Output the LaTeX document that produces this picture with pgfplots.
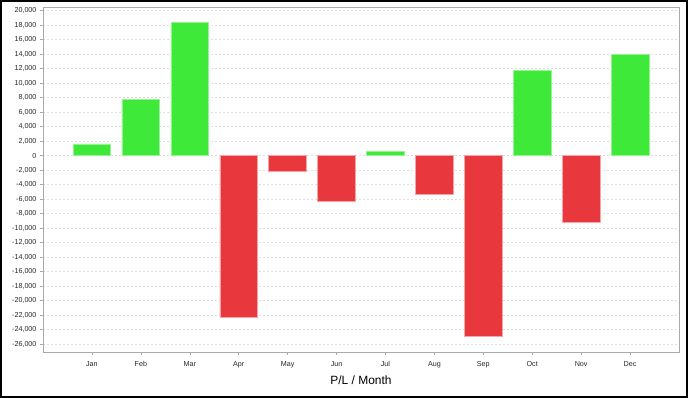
\documentclass[border=0pt]{standalone}
\usepackage{pgfplots}
\pgfplotsset{compat=1.18}
\usepackage{fontspec}
\setmainfont{Liberation Sans}
\definecolor{posgreen}{HTML}{3EE93A}
\definecolor{negred}{HTML}{E8383D}
\definecolor{framegray}{HTML}{AAAAAA}
\definecolor{gridgray}{HTML}{DEDEDE}
\begin{document}
\begin{tikzpicture}
\useasboundingbox (-43bp,-46bp) rectangle (645bp,352bp);
\begin{axis}[
  at={(0,0)}, anchor=south west,
  scale only axis,
  width=636bp, height=345bp,
  xmin=-1, xmax=12,
  ymin=-27100, ymax=20500,
  ytick={-26000,-24000,...,20000},
  xtick={0,...,11},
  xticklabels={Jan,Feb,Mar,Apr,May,Jun,Jul,Aug,Sep,Oct,Nov,Dec},
  xtick pos=left, ytick pos=left,
  tick align=outside,
  major tick length=3bp,
  tick style={framegray, line width=0.5bp},
  axis line style={framegray, line width=0.8bp},
  ymajorgrids,
  grid style={gridgray, dashed, dash pattern=on 2bp off 2bp, line width=0.5bp},
  /pgf/number format/assume math mode=true,
  /pgf/number format/1000 sep={,},
  scaled y ticks=false,
  ticklabel style={font=\fontsize{7.2}{8}\selectfont, text=black!85},
  xticklabel style={yshift=-3bp},
  xlabel={P/L / Month},
  xlabel style={font=\fontsize{12}{14}\selectfont, yshift=-1bp},
  ybar, bar width=37.7bp, bar shift=0pt,
]
\addplot[fill=posgreen, draw=posgreen!55!white, line width=0.6bp] coordinates {
  (0,1600) (1,7700) (2,18350) (6,550) (9,11700) (11,14000)
};
\addplot[fill=negred, draw=negred!45!white, line width=0.6bp] coordinates {
  (3,-22300) (4,-2200) (5,-6300) (7,-5300) (8,-25000) (10,-9200)
};
\end{axis}
\draw[black, line width=2bp] (-42bp,-45bp) rectangle (644bp,351bp);
\end{tikzpicture}
\end{document}
